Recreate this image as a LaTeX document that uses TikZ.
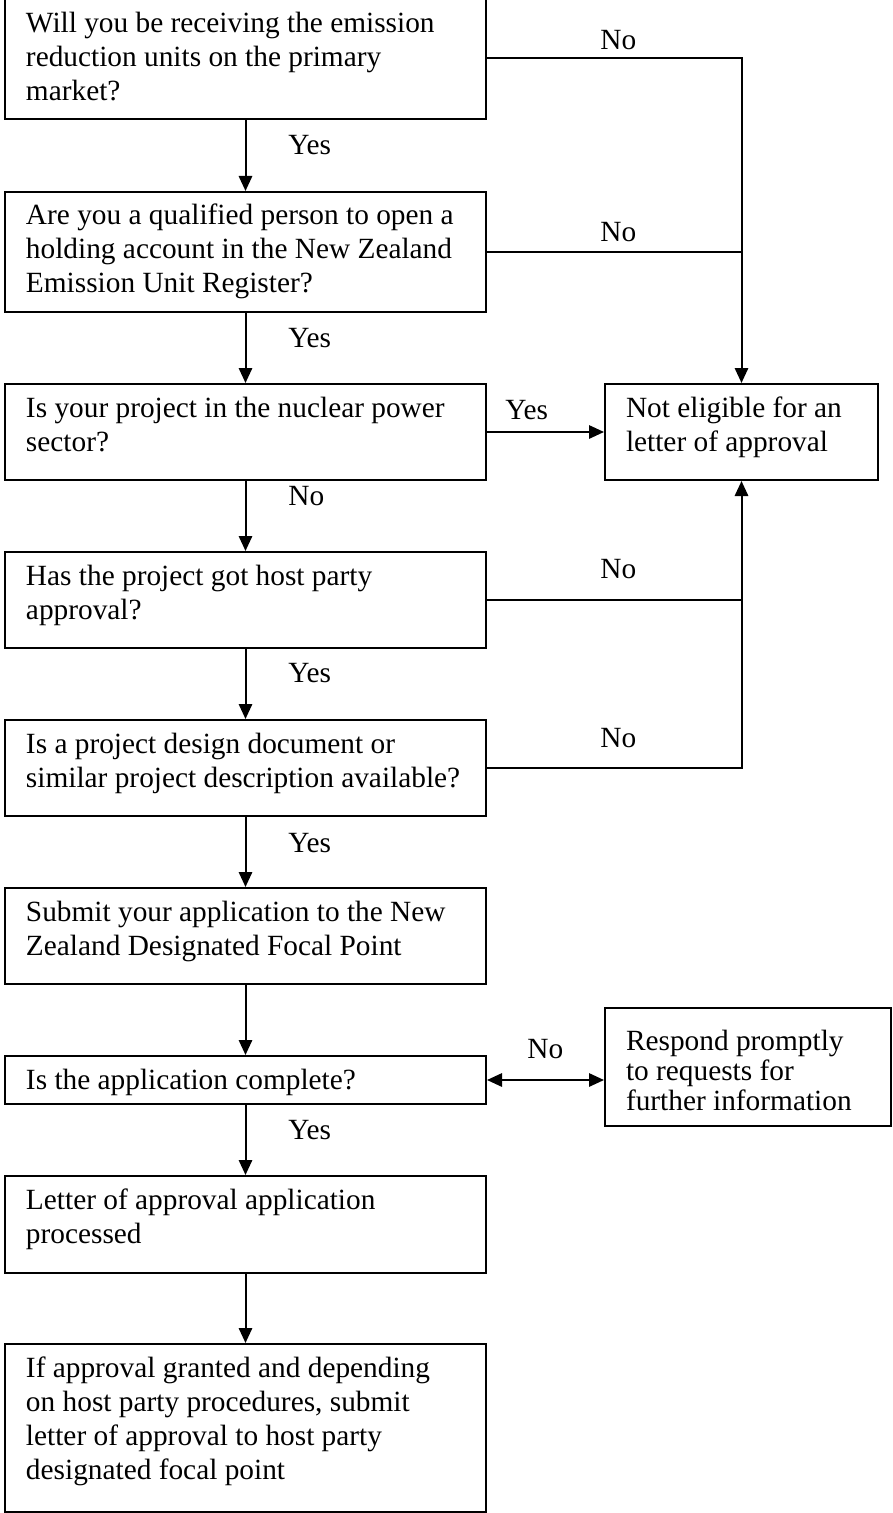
\documentclass[tikz,border=0pt]{standalone}
\usepackage{fontspec}
\setmainfont{Liberation Serif}
\usetikzlibrary{arrows.meta}
\newdimen\upx \upx=0.45pt
\newcommand\boxtxt[4][12.85pt]{\parbox[t][\dimexpr #2\upx-4pt\relax][t]{\dimexpr #3\upx\relax}{\raggedright\rule{0pt}{#1}#4}}
\begin{document}
\begin{tikzpicture}[x=0.45pt,y=-0.45pt,
  box/.style={draw, line width=0.9pt, anchor=north west, inner xsep=9.45pt, inner ysep=2pt, font=\fontsize{13.2pt}{15.3pt}\selectfont},
  lbl/.style={anchor=base west, inner sep=0pt, font=\fontsize{13.2pt}{15.3pt}\selectfont},
  arr/.style={line width=0.9pt, -{Triangle[length=6.75pt,width=6pt]}},
  darr/.style={line width=0.9pt, {Triangle[length=6.75pt,width=6pt]}-{Triangle[length=6.75pt,width=6pt]}},
  con/.style={line width=0.9pt}]
\useasboundingbox (0,0) rectangle (892,1513);
% main column
\node[box] (b1) at (4,-4)   {\boxtxt[14.2pt]{122}{439}{Will you be receiving the emission\\reduction units on the primary\\market?}};
\node[box] (b2) at (4,191)  {\boxtxt{120}{439}{Are you a qualified person to open a\\holding account in the New Zealand\\Emission Unit Register?}};
\node[box] (b3) at (4,383)  {\boxtxt{96}{439}{Is your project in the nuclear power\\sector?}};
\node[box] (b4) at (4,551)  {\boxtxt{96}{439}{Has the project got host party\\approval?}};
\node[box] (b5) at (4,719)  {\boxtxt{96}{439}{Is a project design document or\\similar project description available?}};
\node[box] (b6) at (4,887)  {\boxtxt{96}{439}{Submit your application to the New\\Zealand Designated Focal Point}};
\node[box] (b7) at (4,1055) {\boxtxt{48}{439}{Is the application complete?}};
\node[box] (b8) at (4,1175) {\boxtxt{97}{439}{Letter of approval application\\processed}};
\node[box] (b9) at (4,1343) {\boxtxt{168}{439}{If approval granted and depending\\on host party procedures, submit\\letter of approval to host party\\designated focal point}};
% side boxes
\node[box] (ne) at (604,383) {\boxtxt{96}{231}{Not eligible for an\\letter of approval}};
\node[box, font=\fontsize{13.2pt}{13.5pt}\selectfont] (rp) at (604,1007) {\boxtxt[17.2pt]{118}{244}{Respond promptly\\to requests for\\further information}};
% vertical connectors
\draw[arr] (b1.south) -- (b2.north);
\draw[arr] (b2.south) -- (b3.north);
\draw[arr] (b3.south) -- (b4.north);
\draw[arr] (b4.south) -- (b5.north);
\draw[arr] (b5.south) -- (b6.north);
\draw[arr] (b6.south) -- (b7.north);
\draw[arr] (b7.south) -- (b8.north);
\draw[arr] (b8.south) -- (b9.north);
% side connectors
\draw[arr] (b1.east) -| (ne.north);
\draw[con] (b2.east) -- (b2.east -| ne.north);
\draw[arr] (b3.east) -- (b3.east -| ne.west);
\draw[con] (b4.east) -- (b4.east -| ne.south);
\draw[arr] (b5.east) -| (ne.south);
\draw[darr] (b7.east) -- (b7.east -| rp.west);
% labels
\node[lbl] (l1) at (288,155)  {Yes};
\node[lbl] (l2) at (288,347)  {Yes};
\node[lbl] (l3) at (288,505)  {No};
\node[lbl] (l4) at (288,682)  {Yes};
\node[lbl] (l5) at (288,852)  {Yes};
\node[lbl] (l7) at (288,1139) {Yes};
\node[lbl] (r1) at (600,50)   {No};
\node[lbl] (r2) at (600,242)  {No};
\node[lbl] (r3) at (505,419)  {Yes};
\node[lbl] (r4) at (600,578)  {No};
\node[lbl] (r5) at (600,747)  {No};
\node[lbl] (r7) at (527,1058) {No};
\end{tikzpicture}
\end{document}
